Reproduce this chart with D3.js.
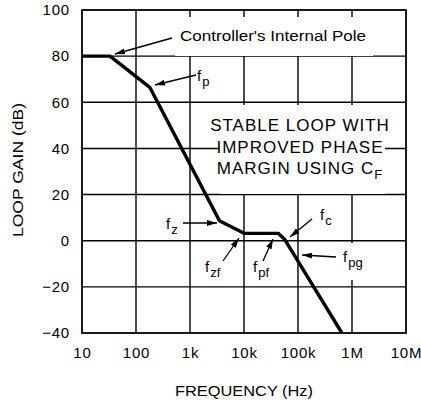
<!DOCTYPE html>
<html><head><meta charset="utf-8">
<script src="https://cdn.jsdelivr.net/npm/d3@7"></script>
<style>
html,body{margin:0;padding:0;background:#fff;}
svg{display:block;font-family:"Liberation Sans",Arial,sans-serif;}
</style></head>
<body>
<svg id="c" width="421" height="401"></svg>
<script>
// ---- data ----
const freqHz = [10, 33, 180, 3500, 10000, 43000, 57000, 650000];
const gainDb = [80, 80, 66.5, 8.7, 3.2, 3.2, 0.5, -40];
const xTickValues = [10, 100, 1e3, 1e4, 1e5, 1e6, 1e7];
const xTickLabels = ["10", "100", "1k", "10k", "100k", "1M", "10M"];
const yTickValues = [-40, -20, 0, 20, 40, 60, 80, 100];
const yTickLabels = ["\u221240", "\u221220", "0", "20", "40", "60", "80", "100"];
const xTitle = "FREQUENCY (Hz)";
const yTitle = "LOOP GAIN (dB)";
const boxLines = ["STABLE LOOP WITH", "IMPROVED PHASE", "MARGIN USING C"];

// ---- layout ----
const L = 82, T = 10, R = 406, B = 333;
const svg = d3.select("#c");
const x = d3.scaleLog().domain([10, 1e7]).range([L, R]);
const y = d3.scaleLinear().domain([-40, 100]).range([B, T]);

// grid
const g = svg.append("g");
g.selectAll(".vg").data(xTickValues.slice(1, -1)).enter().append("line")
  .attr("x1", d => x(d)).attr("x2", d => x(d)).attr("y1", T).attr("y2", B)
  .attr("stroke", "#000").attr("stroke-width", 1.4);
g.selectAll(".hg").data(yTickValues.slice(1, -1)).enter().append("line")
  .attr("x1", L).attr("x2", R).attr("y1", d => y(d)).attr("y2", d => y(d))
  .attr("stroke", "#000").attr("stroke-width", 1.4);

// white label backgrounds hiding grid
const bg = [[175, 17, 198, 39], [220, 105, 165, 89], [340, 243, 24, 37]];
svg.selectAll(".bg").data(bg).enter().append("rect")
  .attr("x", d => d[0]).attr("y", d => d[1]).attr("width", d => d[2]).attr("height", d => d[3])
  .attr("fill", "#fff");

// frame
svg.append("rect").attr("x", L).attr("y", T).attr("width", R - L).attr("height", B - T)
  .attr("fill", "none").attr("stroke", "#000").attr("stroke-width", 1.8);

// axes labels via d3 axes (no lines)
const xAxis = d3.axisBottom(x).tickValues(xTickValues)
  .tickFormat((d, i) => xTickLabels[i]).tickSize(0).tickPadding(0);
const xa = svg.append("g").attr("transform", `translate(0,${B + 14})`).call(xAxis);
xa.select(".domain").remove();
xa.selectAll("text").attr("font-size", 15).attr("font-family", "Liberation Sans, Arial, sans-serif")
  .attr("letter-spacing", 0.8).attr("fill", "#000");

const yAxis = d3.axisLeft(y).tickValues(yTickValues)
  .tickFormat((d, i) => yTickLabels[i]).tickSize(0).tickPadding(0);
const ya = svg.append("g").attr("transform", `translate(${L - 12},0)`).call(yAxis);
ya.select(".domain").remove();
ya.selectAll("text").attr("font-size", 15).attr("font-family", "Liberation Sans, Arial, sans-serif")
  .attr("letter-spacing", 0.8).attr("fill", "#000");

// titles
svg.append("text").attr("x", 244).attr("y", 396).attr("text-anchor", "middle")
  .attr("font-size", 15).attr("textLength", 138).attr("lengthAdjust", "spacingAndGlyphs").text(xTitle);
svg.append("text").attr("transform", "translate(23,170) rotate(-90)").attr("text-anchor", "middle")
  .attr("font-size", 15).attr("textLength", 134).attr("lengthAdjust", "spacingAndGlyphs").text(yTitle);

// curve
const pts = freqHz.map((f, i) => [f, gainDb[i]]);
svg.append("path").datum(pts)
  .attr("d", d3.line().x(d => x(d[0])).y(d => y(d[1])))
  .attr("fill", "none").attr("stroke", "#000").attr("stroke-width", 3.4)
  .attr("stroke-linejoin", "round");

// arrow marker
svg.append("defs").append("marker").attr("id", "ah")
  .attr("viewBox", "0 0 10 6").attr("refX", 10).attr("refY", 3)
  .attr("markerWidth", 10).attr("markerHeight", 6).attr("markerUnits", "userSpaceOnUse")
  .attr("orient", "auto").append("path").attr("d", "M0,0L10,3L0,6Z").attr("fill", "#000");

const arrows = [[172, 38, 115, 54], [196, 75, 155, 85], [183, 223, 217, 223],
  [223, 261, 239, 238], [263, 261, 273, 239], [312, 219, 290, 237], [336, 257, 302, 255]];
svg.selectAll(".ar").data(arrows).enter().append("line")
  .attr("x1", d => d[0]).attr("y1", d => d[1]).attr("x2", d => d[2]).attr("y2", d => d[3])
  .attr("stroke", "#000").attr("stroke-width", 1.3).attr("marker-end", "url(#ah)");

// controller text
svg.append("text").attr("x", 180).attr("y", 41).attr("font-size", 14)
  .attr("textLength", 186).attr("lengthAdjust", "spacingAndGlyphs").text("Controller's Internal Pole");

// f labels
const flabels = [["p", 197, 81], ["z", 166, 229], ["zf", 205, 272], ["pf", 253, 272], ["c", 320, 220], ["pg", 343, 262]];
flabels.forEach(([sub, fx, fy]) => {
  const t = svg.append("text").attr("x", fx).attr("y", fy).attr("font-size", 15);
  t.append("tspan").text("f");
  t.append("tspan").attr("dx", 1).attr("dy", 5).attr("font-size", 13).text(sub);
});

// box text
const boxY = [131, 153, 174];
boxLines.forEach((s, i) => {
  const t = svg.append("text").attr("x", 300).attr("y", boxY[i]).attr("text-anchor", "middle")
    .attr("font-size", 17).attr("letter-spacing", 1);
  t.append("tspan").text(s);
  if (i === 2) t.append("tspan").attr("dy", 5).attr("font-size", 13).text("F");
});
</script>
</body></html>
